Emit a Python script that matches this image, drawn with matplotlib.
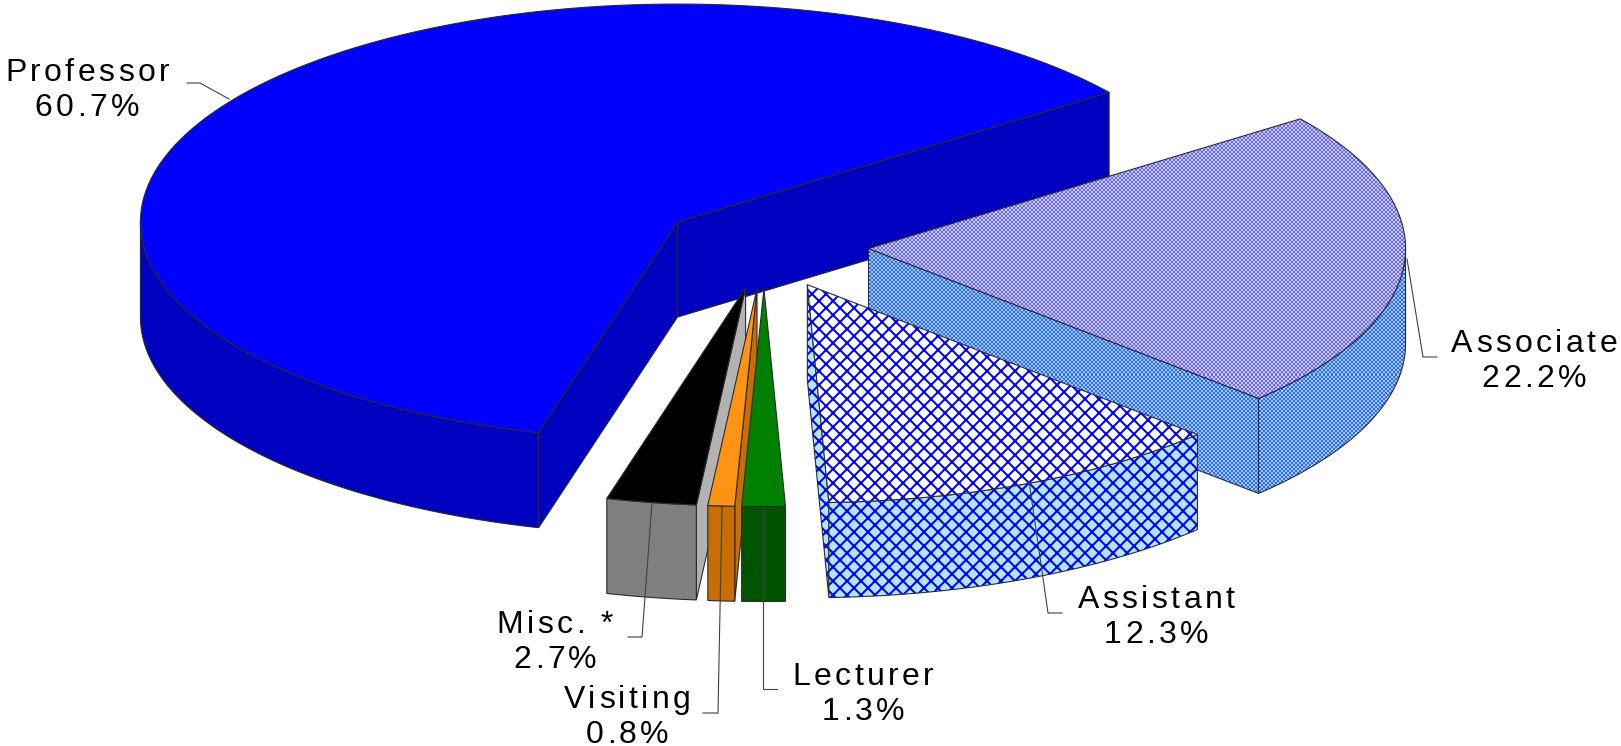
import numpy as np
import matplotlib
matplotlib.use("Agg")
import matplotlib.pyplot as plt
from matplotlib.font_manager import FontProperties, findfont, get_font
from matplotlib.patches import Polygon
from matplotlib.text import Text
from matplotlib.transforms import Bbox

names = ["Professor", "Misc. *", "Visiting", "Lecturer", "Assistant", "Associate"]
shares = [60.7, 2.7, 0.8, 1.3, 12.3, 22.2]
percent_labels = ["60.7%", "2.7%", "0.8%", "1.3%", "12.3%", "22.2%"]

# colours: top, side, radial face
top_colors = ["#0000ff", "#000000", "#ff9414", "#008000", "#ffffff", None]
side_colors = ["#0000c0", "#808080", "#c86e00", "#005400", "#b0e4ff", None]
cut_colors = ["#0000c0", "#b2b2b2", "#c86e00", "#005400", "#b0e4ff", None]

# text centre and baseline of the first line, in pixels
label_x = [87, 555, 627, 863, 1156, 1534]
label_y = [81, 633, 708, 685, 608, 352]
leaders = [
    [(187, 83), (200, 83), (229, 99)],
    [(652, 503), (642, 637), (628, 637)],
    [(722, 507), (718, 713), (703, 713)],
    [(763, 507), (763, 689), (777, 689)],
    [(1029, 481), (1048, 613), (1062, 613)],
    [(1407, 259), (1423, 357), (1437, 357)],
]

W, H = 1621, 746
DPI = 84
PT = 72 / DPI  # one pixel in points
CX, CY = 764, 246
RX, RY = 537, 218
DEPTH = 95
EXPLODE = 0.195
START = 36.5
OUTLINE = "#2a2a2a"
LINE_STEP = 35

plt.rcParams["hatch.linewidth"] = 2 * PT
plt.rcParams["hatch.color"] = "#0000ff"

fig = plt.figure(figsize=((W + 0.01) / DPI, (H + 0.01) / DPI), dpi=DPI)
ax = fig.add_axes([0, 0, 1, 1])

yy, xx = np.indices((H, W))
checker = ((xx // 2 + yy // 2) % 2).astype(float)


def dots(color_a, color_b):
    a = np.array(matplotlib.colors.to_rgb(color_a))
    b = np.array(matplotlib.colors.to_rgb(color_b))
    return a + (b - a) * checker[..., None]


zo = [1]


def face(points, color, hatch=None, pattern=None):
    zo[0] += 1
    if pattern is not None:
        im = ax.imshow(pattern, extent=(0, W, H, 0), aspect="auto",
                       interpolation="nearest", zorder=zo[0])
        clip = Polygon(points, closed=True, transform=ax.transData)
        im.set_clip_path(clip)
    else:
        ax.add_patch(Polygon(points, closed=True, facecolor=color, edgecolor="#0000ff" if hatch else "none",
                             hatch=hatch, lw=0, zorder=zo[0]))
    zo[0] += 1
    ax.add_patch(Polygon(points, closed=True, fill=False, edgecolor=OUTLINE, lw=1.1 * PT, zorder=zo[0]))


def rim(cx, cy, t):
    t = np.radians(t)
    return np.column_stack([cx + RX * np.cos(t), cy - RY * np.sin(t)])


def draw_slice(i, a0, a1):
    mid = np.radians((a0 + a1) / 2)
    cx = CX + EXPLODE * RX * np.cos(mid)
    cy = CY - EXPLODE * RY * np.sin(mid)
    apex = np.array([[cx, cy]])
    down = np.array([0, DEPTH])
    hatch = "xx" if names[i] == "Assistant" else None
    if names[i] == "Associate":
        top_pat, side_pat = dots("#6666ff", "#ccccff"), dots("#3366ff", "#99ccff")
    else:
        top_pat, side_pat = None, None

    # cut faces that look towards the viewer
    for edge, show in ((a0, np.cos(np.radians(a0)) > 0), (a1, np.cos(np.radians(a1)) < 0)):
        if show:
            p = rim(cx, cy, np.array([edge]))
            face(np.vstack([apex, p, p + down, apex + down]), cut_colors[i], hatch, side_pat)

    # outer wall, only the part below the horizontal axis
    lo, hi = max(a0, 180), min(a1, 360)
    if hi > lo:
        arc = rim(cx, cy, np.linspace(lo, hi, 160))
        face(np.vstack([arc, (arc + down)[::-1]]), side_colors[i], hatch, side_pat)

    arc = rim(cx, cy, np.linspace(a0, a1, 300))
    face(np.vstack([apex, arc]), top_colors[i], hatch, top_pat)


class SpacedText(Text):
    # whole string stays in one artist, glyphs get drawn with extra tracking
    tracking = 3.4

    def line_layout(self):
        fp = self.get_fontproperties()
        font = get_font(findfont(fp))
        font.set_size(fp.get_size_in_points(), self.get_figure().dpi)
        out = []
        for line in self.get_text().split("\n"):
            adv = [font.load_char(ord(c), flags=matplotlib.ft2font.LoadFlags.NO_HINTING).linearHoriAdvance / 65536
                   for c in line]
            out.append((line, adv, sum(adv) + self.tracking * (len(line) - 1)))
        return out

    def get_window_extent(self, renderer=None, dpi=None):
        # the tracked box, not the one Text would work out for the plain string
        x0, y0 = self.get_position()
        lines = self.line_layout()
        half = max(w for _, _, w in lines) / 2
        corners = [(x0 - half, y0 - 24), (x0 + half, y0 + LINE_STEP * (len(lines) - 1) + 1)]
        return Bbox(self.get_transform().transform(corners))

    def draw(self, renderer):
        fp = self.get_fontproperties()
        x0, y0 = self.get_position()
        for n, (line, adv, width) in enumerate(self.line_layout()):
            x = x0 - width / 2
            for c, a in zip(line, adv):
                t = Text(x, y0 + n * LINE_STEP, c, fontproperties=fp, color=self.get_color(),
                         ha="left", va="baseline", transform=self.get_transform())
                t.set_figure(self.get_figure())
                t.draw(renderer)
                x += a + self.tracking


edges = START + np.cumsum([0] + shares) * 3.6
# back slices first so the front ones overlap them
for i in [0, 5, 4, 1, 2, 3]:
    draw_slice(i, edges[i], edges[i + 1])

for pts in leaders:
    pts = np.array(pts)
    ax.plot(pts[:, 0], pts[:, 1], color="#404040", lw=1.1 * PT, zorder=500)

fp = FontProperties(family="Liberation Sans", size=32 * PT)
for i in range(len(names)):
    t = SpacedText(label_x[i], label_y[i], names[i] + "\n" + percent_labels[i],
                   fontproperties=fp, color="black", zorder=600, ha="center", va="center")
    ax.add_artist(t)

ax.set_xlim(0, W)
ax.set_ylim(H, 0)
ax.axis("off")

fig.savefig("out.png", dpi=DPI, facecolor="white")
